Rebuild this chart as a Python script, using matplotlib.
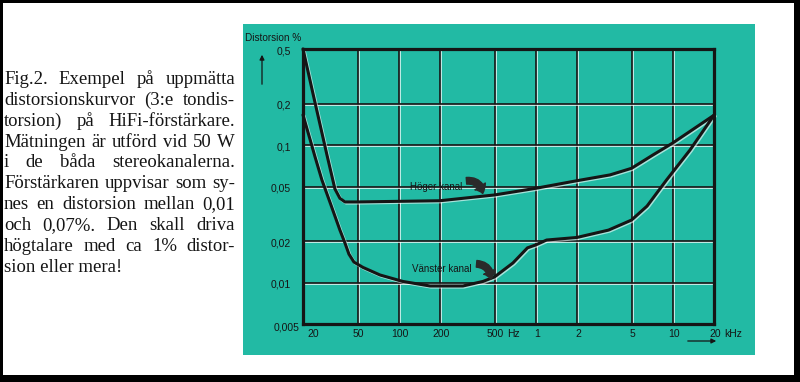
import matplotlib
matplotlib.use('Agg')
import matplotlib.pyplot as plt
import matplotlib.patheffects as pe
from matplotlib.patches import Rectangle, FancyArrowPatch, ArrowStyle

# ---------------- data ----------------
caption_lines = [
    "Fig.2. Exempel på uppmätta",
    "distorsionskurvor (3:e tondis-",
    "torsion) på HiFi-förstärkare.",
    "Mätningen är utförd vid 50 W",
    "i de båda stereokanalerna.",
    "Förstärkaren uppvisar som sy-",
    "nes en distorsion mellan 0,01",
    "och 0,07%. Den skall driva",
    "högtalare med ca 1% distor-",
    "sion eller mera!",
]

hoger_freq = [20, 23.7, 29.9, 34.2, 37.2, 40.5, 50, 100, 200, 500, 1000, 2000, 3480, 5000, 7170, 10000, 20000]
hoger_dist = [0.5, 0.235, 0.085, 0.048, 0.041, 0.0386, 0.0386, 0.039, 0.0394, 0.0434, 0.0485, 0.0551, 0.0607, 0.0678, 0.0848, 0.1036, 0.165]

vanster_freq = [20, 24.5, 27.5, 32.0, 37.2, 40.5, 43.3, 47.1, 54.8, 73, 107, 169, 294, 412, 500, 682, 870,
                1000, 1200, 2000, 3400, 5000, 6490, 9000, 13360, 20000]
vanster_dist = [0.166, 0.082, 0.0557, 0.0367, 0.0241, 0.0194, 0.0161, 0.0141, 0.0129, 0.01136, 0.0102, 0.00945,
                0.00945, 0.0102, 0.011, 0.0139, 0.0179, 0.0188, 0.0204, 0.0213, 0.0241, 0.0285, 0.036, 0.0557,
                0.0921, 0.165]

ytick_vals = [0.5, 0.2, 0.1, 0.05, 0.02, 0.01, 0.005]
ytick_labels = ["0,5", "0,2", "0,1", "0,05", "0,02", "0,01", "0,005"]
xtick_vals = [20, 50, 100, 200, 500, 1000, 2000, 5000, 10000, 20000]
xtick_labels = ["20", "50", "100", "200", "500", "1", "2", "5", "10", "20"]
xtick_units = ["", "", "", "", "Hz", "", "", "", "", "kHz"]
y_axis_label = "Distorsion %"
hoger_label = "Höger kanal"
vanster_label = "Vänster kanal"

# ---------------- style ----------------
W, H = 800, 382
TEAL = '#22baa4'
INK = '#151515'
SANS = ['Liberation Sans', 'DejaVu Sans']
SERIF = ['Liberation Serif', 'DejaVu Serif']
TICK_FS = 7.5


def fx(px):
    return px / W


def fy(py):
    return 1 - py / H


fig = plt.figure(figsize=(W / 100, H / 100), dpi=100)
fig.patch.set_facecolor('white')

# teal panel
fig.patches.append(Rectangle((fx(243), fy(355)), (755 - 243) / W, (355 - 24) / H,
                             transform=fig.transFigure, facecolor=TEAL,
                             edgecolor='none', zorder=-5))
# black scan frame
for (x0, y0, x1, y1) in [(0, 0, 3, H), (0, 0, W, 3), (0, 375, W, H), (794, 0, W, H)]:
    fig.patches.append(Rectangle((fx(x0), fy(y1)), (x1 - x0) / W, (y1 - y0) / H,
                                 transform=fig.transFigure, facecolor='black',
                                 edgecolor='none', zorder=5))

# ---------------- chart ----------------
ax = fig.add_axes([fx(303), fy(324), (714 - 303) / W, (324 - 49) / H])
ax.set_zorder(1)
ax.set_facecolor('none')
ax.set_xscale('log')
ax.set_yscale('log')
ax.set_xlim(xtick_vals[0], xtick_vals[-1])
ax.set_ylim(ytick_vals[-1], ytick_vals[0])
ax.tick_params(which='both', length=0, labelbottom=False, labelleft=False)
for s in ax.spines.values():
    s.set_linewidth(2.3)
    s.set_color(INK)
    s.set_zorder(4)

grid_fx = [pe.SimpleLineShadow(offset=(0.9, -0.9), shadow_color='white', alpha=0.85), pe.Normal()]
for v in xtick_vals[1:-1]:
    ax.axvline(v, color=INK, lw=1.2, path_effects=grid_fx, zorder=1)
for v in ytick_vals[1:-1]:
    ax.axhline(v, color=INK, lw=1.2, path_effects=grid_fx, zorder=1)

curve_fx = [pe.SimpleLineShadow(offset=(0.8, -0.8), shadow_color='white', alpha=0.6), pe.Normal()]
for fr, dv in [(hoger_freq, hoger_dist), (vanster_freq, vanster_dist)]:
    ax.plot(fr, dv, color=INK, lw=2.2, solid_joinstyle='round', solid_capstyle='round',
            clip_on=False, zorder=3, path_effects=curve_fx)

# y tick labels
for i, (v, lbl) in enumerate(zip(ytick_vals, ytick_labels)):
    off = (-3, -3) if i == len(ytick_vals) - 1 else (-12, -2)
    ax.annotate(lbl, xy=(0, v), xycoords=('axes fraction', 'data'), xytext=off,
                textcoords='offset pixels', ha='right', va='center',
                fontsize=TICK_FS, family=SANS, color=INK, annotation_clip=False)

# x tick labels
renderer = fig.canvas.get_renderer()
for i, (v, lbl, unit) in enumerate(zip(xtick_vals, xtick_labels, xtick_units)):
    if i == 0:
        t = ax.annotate(lbl, xy=(v, 0), xycoords=('data', 'axes fraction'), xytext=(4, -10),
                        textcoords='offset pixels', ha='left', va='center',
                        fontsize=TICK_FS, family=SANS, color=INK, annotation_clip=False)
    else:
        t = ax.annotate(lbl, xy=(v, 0), xycoords=('data', 'axes fraction'), xytext=(1, -10),
                        textcoords='offset pixels', ha='center', va='center',
                        fontsize=TICK_FS, family=SANS, color=INK, annotation_clip=False)
    if unit:
        ext = t.get_window_extent(renderer)
        fig.text((ext.x1 + 3) / W, (ext.y0 + ext.y1) / 2 / H, unit, ha='left', va='center',
                 fontsize=TICK_FS, family=SANS, color=INK)

# axis label and arrows
fig.text(fx(245), fy(38), y_axis_label, ha='left', va='center', fontsize=7.2, family=SANS, color=INK)
fig.patches.append(FancyArrowPatch((fx(262), fy(87)), (fx(262), fy(52)), transform=fig.transFigure,
                                   arrowstyle='-|>', mutation_scale=7, lw=0.9, color=INK, zorder=6))
fig.patches.append(FancyArrowPatch((fx(685), fy(341)), (fx(719), fy(341)), transform=fig.transFigure,
                                   arrowstyle='-|>', mutation_scale=7, lw=0.9, color=INK, zorder=6))

# curve labels with bent arrows
ax.text(120.8, 0.0496, hoger_label, ha='left', va='center', fontsize=7, family=SANS, color=INK, zorder=5)
ax.text(124.9, 0.01256, vanster_label, ha='left', va='center', fontsize=7, family=SANS, color=INK, zorder=5)
arrow_style = ArrowStyle.Simple(head_length=0.45, head_width=0.75, tail_width=0.4)
for (p0, p1) in [((312, 0.055), (410, 0.0445)), ((370, 0.0137), (470, 0.0106))]:
    ax.add_patch(FancyArrowPatch(p0, p1, arrowstyle=arrow_style, mutation_scale=12,
                                 connectionstyle='arc3,rad=-0.45', color='#2a2a2a',
                                 shrinkA=0, shrinkB=0, zorder=5))

# ---------------- caption (justified) ----------------
left_px, right_px = 4, 235
base0, lead = 84, 20.86
for i, line in enumerate(caption_lines):
    yb = fy(base0 + i * lead)
    if i == len(caption_lines) - 1:
        fig.text(fx(left_px), yb, line, ha='left', va='baseline', fontsize=13.5,
                 family=SERIF, color=INK)
        continue
    words = line.split(' ')
    texts = [fig.text(0, yb, w, ha='left', va='baseline', fontsize=13.5, family=SERIF, color=INK)
             for w in words]
    widths = [t.get_window_extent(renderer).width for t in texts]
    gap = (right_px - left_px - sum(widths)) / max(len(words) - 1, 1)
    x = left_px
    for t, w in zip(texts, widths):
        t.set_x(fx(x))
        x += w + gap

fig.savefig('out.png', dpi=100)
